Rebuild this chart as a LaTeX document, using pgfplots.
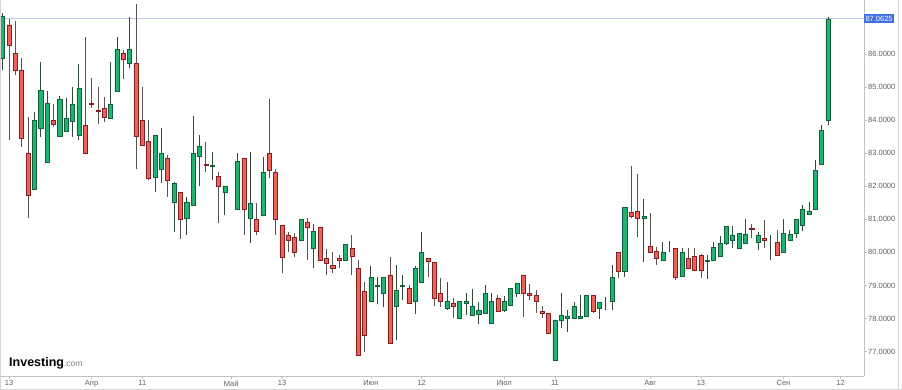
\documentclass[border=0pt]{standalone}
\usepackage{fontspec}
\setmainfont{Liberation Sans}
\usepackage{pgfplots}
\usepackage{pgfplotstable}
\pgfplotsset{compat=1.18}

\definecolor{upfill}{RGB}{32,180,112}
\definecolor{upline}{RGB}{16,96,58}
\definecolor{dnfill}{RGB}{238,98,90}
\definecolor{dnline}{RGB}{130,32,32}
\definecolor{upwick}{RGB}{50,72,60}
\definecolor{dnwick}{RGB}{95,80,80}
\definecolor{axgray}{RGB}{195,195,195}
\definecolor{lblgray}{RGB}{95,95,95}
\definecolor{pricebox}{RGB}{62,110,226}
\definecolor{priceline}{RGB}{185,202,236}

% rising candles: k open high low close
\pgfplotstableread{
k o h l c
0 85.87 87.25 85.52 87.15
5 81.91 84.26 81.89 84.00
6 83.75 85.77 83.50 84.91
7 82.74 84.89 82.74 84.51
9 83.50 84.73 83.50 84.64
10 83.65 84.66 83.65 84.05
11 83.95 85.01 83.50 84.49
12 83.53 85.70 83.40 84.96
17 84.05 85.77 84.05 84.49
18 84.86 86.52 84.86 86.14
20 85.72 87.13 85.57 86.14
24 82.27 83.55 81.84 83.55
25 82.51 83.75 82.09 83.00
27 81.52 82.14 80.63 82.09
29 81.02 81.69 80.52 81.53
30 81.42 84.13 81.42 83.00
31 82.90 83.55 82.02 83.20
33 82.61 83.03 82.19 82.64
35 81.82 82.01 81.13 82.01
36 82.01 82.01 82.01 82.01
37 81.30 83.00 81.30 82.76
39 81.03 83.03 80.27 81.50
41 81.12 82.88 81.12 82.42
47 80.38 81.01 80.38 81.01
49 80.12 80.85 79.52 80.63
54 79.75 80.24 79.75 80.24
58 78.51 79.60 78.51 79.25
59 78.99 79.25 78.44 79.00
60 78.76 79.25 78.34 79.25
62 78.38 79.62 77.35 78.84
63 78.99 79.32 78.56 79.00
65 78.51 79.60 78.14 79.52
66 79.11 80.63 79.11 80.00
70 78.31 79.11 78.26 78.51
72 78.01 78.51 78.01 78.51
73 78.46 78.76 78.11 78.51
74 78.11 78.88 78.11 78.38
75 78.14 78.51 77.83 78.24
76 78.16 79.01 78.16 78.76
77 77.87 78.76 77.87 78.51
79 78.26 78.68 78.21 78.51
80 78.41 78.91 78.41 78.91
81 78.76 79.06 78.66 79.06
87 76.75 77.96 76.75 77.96
88 77.96 78.76 77.70 78.11
89 78.01 78.26 77.60 78.08
90 78.01 78.51 78.01 78.36
91 78.01 78.71 78.01 78.06
92 78.06 78.71 78.06 78.71
94 78.31 78.49 77.98 78.49
95 78.41 78.66 78.26 78.41
96 78.51 79.62 78.26 79.25
98 79.42 81.36 79.27 81.36
101 81.03 81.61 79.72 81.10
104 79.75 80.30 79.75 80.00
105 80.00 80.34 80.00 80.00
107 79.27 80.12 79.27 80.00
111 79.72 79.92 79.19 79.77
112 79.75 80.30 79.75 80.15
113 79.87 80.50 79.87 80.27
114 80.27 80.78 80.22 80.78
115 80.38 80.80 80.12 80.53
116 80.12 80.60 80.12 80.58
117 80.27 81.00 80.27 80.56
119 80.30 80.63 80.07 80.53
121 80.30 80.53 79.77 80.30
123 80.00 81.00 80.00 80.58
124 80.38 80.68 80.36 80.55
125 80.58 81.00 80.43 81.00
126 80.81 81.43 80.66 81.30
127 81.16 81.53 81.16 81.25
128 81.30 82.79 81.30 82.47
129 82.66 83.85 82.66 83.68
130 84.00 87.13 83.85 87.06
}\upd

% falling candles: k open high low close
\pgfplotstableread{
k o h l c
1 86.88 87.06 83.40 86.25
2 86.02 87.01 85.36 85.50
3 85.52 85.87 83.20 83.45
4 83.00 84.10 81.03 81.74
8 84.00 84.49 83.78 83.87
13 83.85 86.50 83.00 83.00
14 84.51 85.26 84.36 84.49
15 84.31 85.01 83.88 84.26
16 84.36 84.71 83.93 84.10
19 86.02 86.12 85.23 85.84
21 85.72 87.51 82.51 83.50
22 84.00 85.01 83.25 83.25
23 83.35 84.00 82.19 82.24
26 82.84 82.95 81.69 82.19
28 81.82 81.82 80.40 81.00
32 82.66 83.35 82.44 82.62
34 82.31 82.44 80.88 81.99
38 82.84 82.84 80.53 81.30
40 81.01 81.48 80.53 80.63
42 83.00 84.64 82.24 82.49
43 82.42 82.52 80.53 81.00
44 80.82 80.82 79.39 79.85
45 80.53 80.63 80.02 80.38
46 80.46 80.58 79.87 80.01
48 80.91 81.03 79.77 80.76
50 80.76 80.76 79.75 79.75
51 79.82 80.09 79.32 79.67
52 79.61 80.02 79.37 79.52
53 79.82 79.92 79.52 79.75
55 80.12 80.53 79.32 79.87
56 79.52 79.77 76.90 76.90
57 78.81 79.11 77.00 77.50
61 79.32 79.87 77.25 77.25
64 78.91 79.01 78.46 78.46
67 79.82 79.82 79.25 79.72
68 79.70 79.70 78.38 78.61
69 78.76 79.22 78.36 78.51
71 78.46 78.61 78.01 78.36
78 78.61 78.71 78.21 78.21
82 79.32 79.32 78.04 78.76
83 78.76 79.06 78.56 78.69
84 78.71 78.86 78.18 78.51
85 78.21 78.38 78.01 78.16
86 78.16 78.16 77.55 77.55
93 78.71 78.71 78.16 78.21
97 80.00 80.00 79.22 79.42
99 81.21 82.62 81.03 81.08
100 81.25 82.36 80.46 81.02
102 80.17 81.18 80.00 80.00
103 80.02 80.17 79.62 79.82
106 80.12 80.12 79.17 79.25
108 79.82 80.12 79.52 79.52
109 79.87 80.12 79.47 79.47
110 79.90 79.95 79.22 79.47
118 80.73 80.85 80.43 80.70
120 80.43 80.98 80.12 80.38
122 80.30 80.68 79.90 79.90
}\dnd

\pgfplotsset{
  base/.style={at={(0pt,14pt)}, anchor=south west,
    width=864pt, height=376pt, scale only axis,
    xmin=-0.425, xmax=135.68, ymin=76.263, ymax=87.633},
  bodyaxis/.style={base, hide axis, ybar stacked, bar width=0.64},
}

\begin{document}
\begin{tikzpicture}
\useasboundingbox (0,0) rectangle (902pt,390pt);
% main axis: frame, ticks, price line, wicks
\begin{axis}[
  base,
  axis x line*=bottom, axis y line*=right,
  axis line style={draw=axgray, line width=0.8pt},
  clip mode=individual,
  tick align=outside, major tick length=3pt,
  tick style={draw=axgray, line width=0.7pt},
  xtick={1,14,22,36,44,58,66,79,87,102,110,123,132},
  xticklabels={13,Апр,11,Май,13,Июн,12,Июл,11,Авг,13,Сен,12},
  ytick={77,78,...,86},
  /pgf/number format/assume math mode=true,
  ticklabel style={font=\fontsize{7.5}{9}\selectfont, text=lblgray},
  yticklabel style={/pgf/number format/fixed, /pgf/number format/fixed zerofill,
    /pgf/number format/precision=4, anchor=west, inner sep=1pt},
  xticklabel style={inner sep=1.5pt},
]
\addplot[priceline, line width=0.8pt] coordinates {(-0.425,87.0625) (135.68,87.0625)};
\addplot[draw=none, mark=none,
  error bars/.cd, y dir=plus, y explicit, error mark=none,
  error bar style={draw=upwick, line width=0.8pt}]
  table[x=k, y=l, y error expr=\thisrow{h}-\thisrow{l}] {\upd};
\addplot[draw=none, mark=none,
  error bars/.cd, y dir=plus, y explicit, error mark=none,
  error bar style={draw=dnwick, line width=0.8pt}]
  table[x=k, y=l, y error expr=\thisrow{h}-\thisrow{l}] {\dnd};
\node[anchor=base west, inner sep=0pt, font=\fontsize{12.5}{13}\selectfont\bfseries]
  at (rel axis cs:0.0104,0.024) {Investing{\fontsize{8.5}{9}\selectfont\mdseries\color{gray}.com}};
\node[fill=pricebox, text=white, anchor=west, inner xsep=1.3pt, inner ysep=1.8pt,
  font=\fontsize{7.5}{9}\selectfont] at (axis cs:135.68,87.0625) {87.0625};
\end{axis}
% rising bodies
\begin{axis}[bodyaxis]
\addplot[draw=none, fill=none] table[x=k, y=o] {\upd};
\addplot[fill=upfill, draw=upline, line width=0.6pt]
  table[x=k, y expr=\thisrow{c}-\thisrow{o}] {\upd};
\end{axis}
% falling bodies
\begin{axis}[bodyaxis]
\addplot[draw=none, fill=none] table[x=k, y=c] {\dnd};
\addplot[fill=dnfill, draw=dnline, line width=0.6pt]
  table[x=k, y expr=\thisrow{o}-\thisrow{c}] {\dnd};
\end{axis}
\draw[axgray!70, line width=0.7pt] (0.35pt,0pt) -- (0.35pt,390pt);
\draw[axgray!70, line width=0.7pt] (898.5pt,0pt) -- (898.5pt,390pt);
\draw[axgray!70, line width=0.7pt] (0pt,0.6pt) -- (902pt,0.6pt);
\end{tikzpicture}
\end{document}
